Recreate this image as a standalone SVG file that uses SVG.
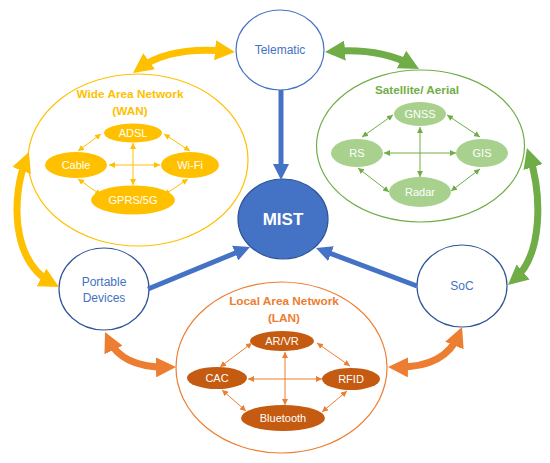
<svg xmlns="http://www.w3.org/2000/svg" width="550" height="463" viewBox="0 0 550 463">
<defs>
<style>
text{font-family:"Liberation Sans",Arial,sans-serif;text-anchor:middle}
.lbl{font-size:11px;fill:#fff}
.blue{fill:#4472C4;font-size:12px}
.big{fill:none;stroke-width:7}
.thin{fill:none;stroke-width:1}
.title{font-size:11.8px;font-weight:bold}
</style>
<marker id="ay" viewBox="0 0 20 20" refX="12" refY="10" markerWidth="20" markerHeight="20" markerUnits="userSpaceOnUse" orient="auto-start-reverse"><path d="M0,0 L20,10 L0,20 z" fill="#FFC000"/></marker>
<marker id="ag" viewBox="0 0 20 20" refX="12" refY="10" markerWidth="20" markerHeight="20" markerUnits="userSpaceOnUse" orient="auto-start-reverse"><path d="M0,0 L20,10 L0,20 z" fill="#70AD47"/></marker>
<marker id="ao" viewBox="0 0 20 20" refX="12" refY="10" markerWidth="20" markerHeight="20" markerUnits="userSpaceOnUse" orient="auto-start-reverse"><path d="M0,0 L20,10 L0,20 z" fill="#ED7D31"/></marker>
<marker id="ab" viewBox="0 0 16 16" refX="8" refY="8" markerWidth="16" markerHeight="16" markerUnits="userSpaceOnUse" orient="auto"><path d="M0,0 L16,8 L0,16 z" fill="#4472C4"/></marker>
<marker id="sy" viewBox="0 0 6 6" refX="6" refY="3" markerWidth="6" markerHeight="6" markerUnits="userSpaceOnUse" orient="auto-start-reverse"><path d="M0,0 L6,3 L0,6 z" fill="#FFC000"/></marker>
<marker id="sg" viewBox="0 0 6 6" refX="6" refY="3" markerWidth="6" markerHeight="6" markerUnits="userSpaceOnUse" orient="auto-start-reverse"><path d="M0,0 L6,3 L0,6 z" fill="#70AD47"/></marker>
<marker id="so" viewBox="0 0 6 6" refX="6" refY="3" markerWidth="6" markerHeight="6" markerUnits="userSpaceOnUse" orient="auto-start-reverse"><path d="M0,0 L6,3 L0,6 z" fill="#ED7D31"/></marker>
</defs>
<rect width="550" height="463" fill="#fff"/>

<g id="wan">
<ellipse cx="138" cy="160" rx="110" ry="86" fill="none" stroke="#FFC000" stroke-width="1.2"/>
<text x="130" y="98" class="title" fill="#FFC000">Wide Area Network</text>
<text x="130" y="115" class="title" fill="#FFC000">(WAN)</text>
<g id="adsl"><ellipse cx="133" cy="133" rx="29" ry="9.5" fill="#FFC000"/><text x="133" y="137" class="lbl">ADSL</text></g>
<g id="cable"><ellipse cx="76" cy="165" rx="31" ry="13" fill="#FFC000"/><text x="76" y="169" class="lbl">Cable</text></g>
<g id="wifi"><ellipse cx="190" cy="165" rx="29" ry="13" fill="#FFC000"/><text x="190" y="169" class="lbl">Wi-Fi</text></g>
<g id="gprs"><ellipse cx="133" cy="200" rx="42" ry="14.5" fill="#FFC000"/><text x="133" y="204" class="lbl">GPRS/5G</text></g>
</g>

<g id="satellite">
<ellipse cx="420.5" cy="146" rx="104" ry="76" fill="none" stroke="#70AD47" stroke-width="1.2"/>
<text x="417" y="94" class="title" fill="#70AD47">Satellite/ Aerial</text>
<g id="gnss"><ellipse cx="420" cy="114" rx="26" ry="12" fill="#A9D18E"/><text x="420" y="118" class="lbl">GNSS</text></g>
<g id="rs"><ellipse cx="357" cy="153" rx="26" ry="14" fill="#A9D18E"/><text x="357" y="157" class="lbl">RS</text></g>
<g id="gis"><ellipse cx="482" cy="153" rx="26" ry="14" fill="#A9D18E"/><text x="482" y="157" class="lbl">GIS</text></g>
<g id="radar"><ellipse cx="420" cy="192" rx="31" ry="15" fill="#A9D18E"/><text x="420" y="196" class="lbl">Radar</text></g>
</g>

<g id="lan">
<ellipse cx="281.5" cy="367.5" rx="105.5" ry="85.5" fill="none" stroke="#ED7D31" stroke-width="1.2"/>
<text x="284" y="305" class="title" fill="#ED7D31">Local Area Network</text>
<text x="284" y="322" class="title" fill="#ED7D31">(LAN)</text>
<g id="arvr"><ellipse cx="282" cy="341" rx="32" ry="10" fill="#C55A11"/><text x="282" y="345" class="lbl">AR/VR</text></g>
<g id="cac"><ellipse cx="217" cy="378" rx="30" ry="11" fill="#C55A11"/><text x="217" y="382" class="lbl">CAC</text></g>
<g id="rfid"><ellipse cx="351" cy="379" rx="29" ry="11" fill="#C55A11"/><text x="351" y="383" class="lbl">RFID</text></g>
<g id="bluetooth"><ellipse cx="283" cy="418" rx="42" ry="13" fill="#C55A11"/><text x="283" y="422" class="lbl">Bluetooth</text></g>
</g>

<g id="telematic"><ellipse cx="280" cy="50" rx="44" ry="40" fill="#fff" stroke="#4472C4" stroke-width="1.2"/><text x="280" y="54" class="blue">Telematic</text></g>
<g id="mist"><ellipse cx="283" cy="219" rx="45" ry="40" fill="#4472C4" stroke="#2F5597" stroke-width="1.2"/><text x="283" y="225" font-size="17" font-weight="bold" fill="#fff">MIST</text></g>
<g id="portable"><ellipse cx="104" cy="289" rx="45" ry="41" fill="#fff" stroke="#2F5597" stroke-width="1.2"/><text x="104" y="286" class="blue">Portable</text><text x="104" y="302" class="blue">Devices</text></g>
<g id="soc"><ellipse cx="462" cy="286" rx="45" ry="41" fill="#fff" stroke="#2F5597" stroke-width="1.2"/><text x="462" y="290" class="blue">SoC</text></g>

<g id="connectors">
<path class="big" stroke="#FFC000" d="M139.5,68.3 Q170,46 227,51.3" marker-start="url(#ay)" marker-end="url(#ay)"/>
<path class="big" stroke="#FFC000" d="M26,159.4 C12,195 10,260 52,283.2" marker-start="url(#ay)" marker-end="url(#ay)"/>
<path class="big" stroke="#70AD47" d="M333,51.4 Q380,48 412,65.2" marker-start="url(#ag)" marker-end="url(#ag)"/>
<path class="big" stroke="#70AD47" d="M529.4,155.6 C542,195 543,255 514,279.8" marker-start="url(#ag)" marker-end="url(#ag)"/>
<path class="big" stroke="#ED7D31" d="M108.4,339.2 Q122,368 168,367.1" marker-start="url(#ao)" marker-end="url(#ao)"/>
<path class="big" stroke="#ED7D31" d="M396,367.1 Q445,368 459,334.4" marker-start="url(#ao)" marker-end="url(#ao)"/>

<path fill="none" stroke="#4472C4" stroke-width="5" d="M281,90 L281,172" marker-end="url(#ab)"/>
<path fill="none" stroke="#4472C4" stroke-width="5" d="M148,289 L242.6,250" marker-end="url(#ab)"/>
<path fill="none" stroke="#4472C4" stroke-width="5" d="M417,286 L323.5,250.8" marker-end="url(#ab)"/>

<g stroke="#FFC000">
<path class="thin" d="M101,134 L78,151" marker-start="url(#sy)" marker-end="url(#sy)"/>
<path class="thin" d="M164,134 L190,151" marker-start="url(#sy)" marker-end="url(#sy)"/>
<path class="thin" d="M78,179 L101,195" marker-start="url(#sy)" marker-end="url(#sy)"/>
<path class="thin" d="M188,179 L164,195" marker-start="url(#sy)" marker-end="url(#sy)"/>
<path class="thin" d="M109,165 L160,165" marker-start="url(#sy)" marker-end="url(#sy)"/>
<path class="thin" d="M133,143 L133,185" marker-start="url(#sy)" marker-end="url(#sy)"/>
</g>
<g stroke="#70AD47">
<path class="thin" d="M393,115 L362,137" marker-start="url(#sg)" marker-end="url(#sg)"/>
<path class="thin" d="M447,115 L480,137" marker-start="url(#sg)" marker-end="url(#sg)"/>
<path class="thin" d="M358,168 L389,192" marker-start="url(#sg)" marker-end="url(#sg)"/>
<path class="thin" d="M480,169 L451,191" marker-start="url(#sg)" marker-end="url(#sg)"/>
<path class="thin" d="M384,153 L456,153" marker-start="url(#sg)" marker-end="url(#sg)"/>
<path class="thin" d="M420,127 L420,177" marker-start="url(#sg)" marker-end="url(#sg)"/>
</g>
<g stroke="#ED7D31">
<path class="thin" d="M252,343 L220,367" marker-start="url(#so)" marker-end="url(#so)"/>
<path class="thin" d="M317,343 L350,366" marker-start="url(#so)" marker-end="url(#so)"/>
<path class="thin" d="M222,390 L246,411" marker-start="url(#so)" marker-end="url(#so)"/>
<path class="thin" d="M347,391 L322,412" marker-start="url(#so)" marker-end="url(#so)"/>
<path class="thin" d="M248,379 L322,379" marker-start="url(#so)" marker-end="url(#so)"/>
<path class="thin" d="M285,352 L285,405" marker-start="url(#so)" marker-end="url(#so)"/>
</g>
</g>
</svg>
